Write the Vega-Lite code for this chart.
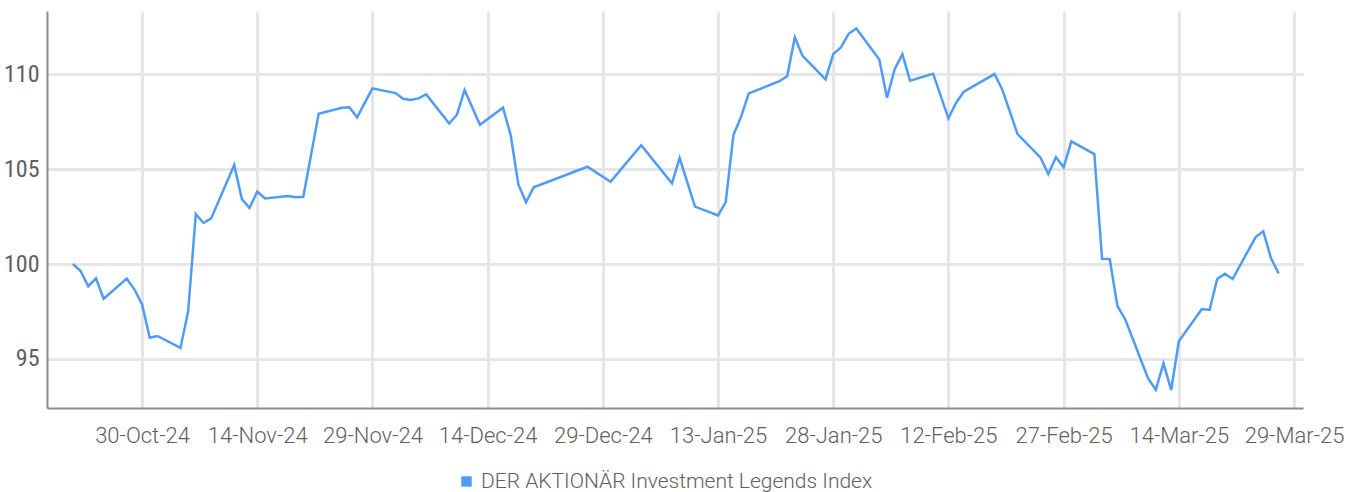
{
  "$schema": "https://vega.github.io/schema/vega-lite/v6.json",
  "autosize": {"type": "none"},
  "width": 1256,
  "height": 397,
  "padding": {"left": 47, "top": 11, "right": 55, "bottom": 84},
  "background": "white",
  "config": {
    "view": {"stroke": null},
    "font": "Roboto"
  },
  "data": {
    "values": [
      {"date": "2024-10-21", "value": 100.0},
      {"date": "2024-10-22", "value": 99.63},
      {"date": "2024-10-23", "value": 98.83},
      {"date": "2024-10-24", "value": 99.25},
      {"date": "2024-10-25", "value": 98.17},
      {"date": "2024-10-28", "value": 99.23},
      {"date": "2024-10-29", "value": 98.67},
      {"date": "2024-10-30", "value": 97.88},
      {"date": "2024-10-31", "value": 96.12},
      {"date": "2024-11-01", "value": 96.21},
      {"date": "2024-11-04", "value": 95.58},
      {"date": "2024-11-05", "value": 97.49},
      {"date": "2024-11-06", "value": 102.63},
      {"date": "2024-11-07", "value": 102.16},
      {"date": "2024-11-08", "value": 102.4},
      {"date": "2024-11-11", "value": 105.21},
      {"date": "2024-11-12", "value": 103.42},
      {"date": "2024-11-13", "value": 102.95},
      {"date": "2024-11-14", "value": 103.82},
      {"date": "2024-11-15", "value": 103.45},
      {"date": "2024-11-18", "value": 103.58},
      {"date": "2024-11-19", "value": 103.51},
      {"date": "2024-11-20", "value": 103.54},
      {"date": "2024-11-22", "value": 107.91},
      {"date": "2024-11-25", "value": 108.23},
      {"date": "2024-11-26", "value": 108.25},
      {"date": "2024-11-27", "value": 107.72},
      {"date": "2024-11-29", "value": 109.25},
      {"date": "2024-12-02", "value": 109.0},
      {"date": "2024-12-03", "value": 108.7},
      {"date": "2024-12-04", "value": 108.63},
      {"date": "2024-12-05", "value": 108.72},
      {"date": "2024-12-06", "value": 108.93},
      {"date": "2024-12-09", "value": 107.4},
      {"date": "2024-12-10", "value": 107.86},
      {"date": "2024-12-11", "value": 109.16},
      {"date": "2024-12-13", "value": 107.33},
      {"date": "2024-12-16", "value": 108.23},
      {"date": "2024-12-17", "value": 106.79},
      {"date": "2024-12-18", "value": 104.19},
      {"date": "2024-12-19", "value": 103.25},
      {"date": "2024-12-20", "value": 104.04},
      {"date": "2024-12-27", "value": 105.12},
      {"date": "2024-12-30", "value": 104.33},
      {"date": "2025-01-03", "value": 106.26},
      {"date": "2025-01-07", "value": 104.25},
      {"date": "2025-01-08", "value": 105.58},
      {"date": "2025-01-10", "value": 103.02},
      {"date": "2025-01-13", "value": 102.56},
      {"date": "2025-01-14", "value": 103.26},
      {"date": "2025-01-15", "value": 106.79},
      {"date": "2025-01-16", "value": 107.75},
      {"date": "2025-01-17", "value": 108.98},
      {"date": "2025-01-21", "value": 109.63},
      {"date": "2025-01-22", "value": 109.88},
      {"date": "2025-01-23", "value": 111.93},
      {"date": "2025-01-24", "value": 110.96},
      {"date": "2025-01-27", "value": 109.72},
      {"date": "2025-01-28", "value": 111.05},
      {"date": "2025-01-29", "value": 111.4},
      {"date": "2025-01-30", "value": 112.12},
      {"date": "2025-01-31", "value": 112.4},
      {"date": "2025-02-03", "value": 110.77},
      {"date": "2025-02-04", "value": 108.75},
      {"date": "2025-02-05", "value": 110.26},
      {"date": "2025-02-06", "value": 111.05},
      {"date": "2025-02-07", "value": 109.65},
      {"date": "2025-02-10", "value": 110.02},
      {"date": "2025-02-12", "value": 107.67},
      {"date": "2025-02-13", "value": 108.49},
      {"date": "2025-02-14", "value": 109.07},
      {"date": "2025-02-18", "value": 110.0},
      {"date": "2025-02-19", "value": 109.19},
      {"date": "2025-02-21", "value": 106.84},
      {"date": "2025-02-24", "value": 105.6},
      {"date": "2025-02-25", "value": 104.74},
      {"date": "2025-02-26", "value": 105.62},
      {"date": "2025-02-27", "value": 105.09},
      {"date": "2025-02-28", "value": 106.46},
      {"date": "2025-03-03", "value": 105.79},
      {"date": "2025-03-04", "value": 100.28},
      {"date": "2025-03-05", "value": 100.26},
      {"date": "2025-03-06", "value": 97.79},
      {"date": "2025-03-07", "value": 97.1},
      {"date": "2025-03-10", "value": 93.98},
      {"date": "2025-03-11", "value": 93.38},
      {"date": "2025-03-12", "value": 94.77},
      {"date": "2025-03-13", "value": 93.37},
      {"date": "2025-03-14", "value": 95.93},
      {"date": "2025-03-17", "value": 97.63},
      {"date": "2025-03-18", "value": 97.58},
      {"date": "2025-03-19", "value": 99.21},
      {"date": "2025-03-20", "value": 99.49},
      {"date": "2025-03-21", "value": 99.21},
      {"date": "2025-03-24", "value": 101.42},
      {"date": "2025-03-25", "value": 101.72},
      {"date": "2025-03-26", "value": 100.3},
      {"date": "2025-03-27", "value": 99.51}
    ]
  },
  "mark": {"type": "line", "strokeWidth": 2.5, "interpolate": "linear"},
  "encoding": {
    "x": {
      "field": "date",
      "type": "temporal",
      "scale": {
        "type": "utc",
        "domain": [
          {"year": 2024, "month": 10, "date": 17, "hours": 15, "utc": true},
          {"year": 2025, "month": 3, "date": 30, "hours": 4, "utc": true}
        ]
      },
      "axis": {
        "title": null,
        "format": "%d-%b-%y",
        "values": [
          {"year": 2024, "month": 10, "date": 30, "utc": true},
          {"year": 2024, "month": 11, "date": 14, "utc": true},
          {"year": 2024, "month": 11, "date": 29, "utc": true},
          {"year": 2024, "month": 12, "date": 14, "utc": true},
          {"year": 2024, "month": 12, "date": 29, "utc": true},
          {"year": 2025, "month": 1, "date": 13, "utc": true},
          {"year": 2025, "month": 1, "date": 28, "utc": true},
          {"year": 2025, "month": 2, "date": 12, "utc": true},
          {"year": 2025, "month": 2, "date": 27, "utc": true},
          {"year": 2025, "month": 3, "date": 14, "utc": true},
          {"year": 2025, "month": 3, "date": 29, "utc": true}
        ],
        "ticks": false,
        "tickSize": 0,
        "labelPadding": 17,
        "labelFont": "Roboto",
        "labelFontWeight": 300,
        "labelFontSize": 22,
        "labelColor": "#606060",
        "labelOverlap": false,
        "labelFlush": false,
        "domainColor": "#8a8a8a",
        "domainWidth": 2,
        "grid": true,
        "gridColor": "#e6e6e6",
        "gridWidth": 3
      }
    },
    "y": {
      "field": "value",
      "type": "quantitative",
      "scale": {"domain": [92.42, 113.32], "nice": false, "zero": false},
      "axis": {
        "title": null,
        "values": [95, 100, 105, 110],
        "ticks": false,
        "tickSize": 0,
        "labelPadding": 8,
        "labelFont": "Liberation Sans Narrow, Roboto Condensed, DejaVu Sans Condensed, sans-serif",
        "labelFontSize": 24,
        "labelColor": "#606060",
        "domainColor": "#8a8a8a",
        "domainWidth": 2,
        "grid": true,
        "gridColor": "#e6e6e6",
        "gridWidth": 3
      }
    },
    "color": {
      "datum": "DER AKTIONÄR Investment Legends Index",
      "type": "nominal",
      "scale": {"range": ["#4f9cf6"]},
      "legend": {
        "title": null,
        "orient": "none",
        "legendX": 409,
        "legendY": 460,
        "direction": "horizontal",
        "symbolType": "square",
        "symbolSize": 110,
        "symbolFillColor": "#4f9cf6",
        "symbolStrokeWidth": 0,
        "symbolOffset": 0,
        "labelFont": "Roboto",
        "labelFontWeight": 300,
        "labelFontSize": 21,
        "labelColor": "#606060",
        "labelOffset": 4,
        "labelLimit": 600,
        "encode": {
          "symbols": {"update": {"fill": {"value": "#4f9cf6"}, "strokeWidth": {"value": 0}}}
        }
      }
    }
  }
}
